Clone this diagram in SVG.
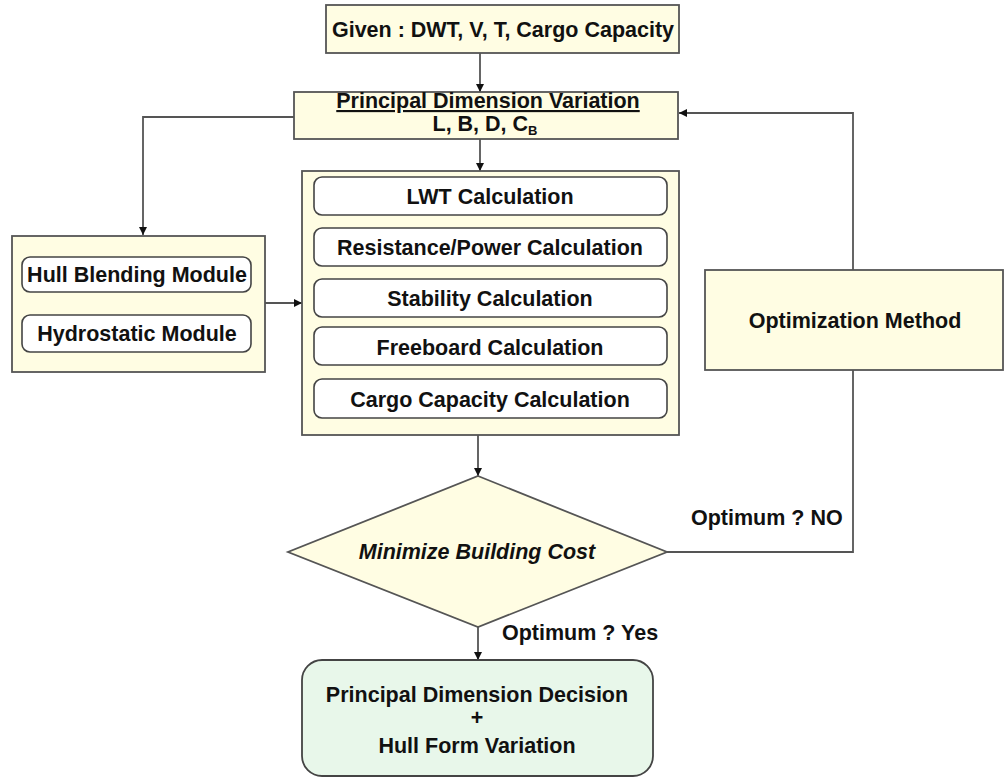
<svg xmlns="http://www.w3.org/2000/svg" width="1005" height="778" viewBox="0 0 1005 778">
  <style>
    text { font-family: "Liberation Sans", Arial, sans-serif; font-weight: bold; font-size: 21.5px; fill: #111; }
    .mid { text-anchor: middle; }
    .panel { fill: #FFFDE3; stroke: #555; stroke-width: 1.8; }
    .step { fill: #FFFFFF; stroke: #444; stroke-width: 1.6; }
    .result { fill: #E8F7EA; stroke: #444; stroke-width: 1.8; }
    .link { fill: none; stroke: #555; stroke-width: 1.8; }
  </style>
  <defs>
    <marker id="arrow" viewBox="0 0 10 10" refX="10" refY="5" markerWidth="9" markerHeight="8" markerUnits="userSpaceOnUse" orient="auto">
      <path d="M0,0 L10,5 L0,10 Z" fill="#111"/>
    </marker>
  </defs>

  <rect width="1005" height="778" fill="#FFFFFF"/>

  <!-- connectors, drawn beneath the boxes -->
  <g id="connectors">
    <line class="link" x1="480" y1="53" x2="480" y2="92" marker-end="url(#arrow)"/>
    <polyline class="link" points="294,117 143,117 143,235" marker-end="url(#arrow)"/>
    <line class="link" x1="265" y1="303" x2="302" y2="303" marker-end="url(#arrow)"/>
    <line class="link" x1="480" y1="139" x2="480" y2="171" marker-end="url(#arrow)"/>
    <line class="link" x1="478" y1="435" x2="478" y2="476" marker-end="url(#arrow)"/>
    <line class="link" x1="478" y1="627" x2="478" y2="660" marker-end="url(#arrow)"/>
    <polyline class="link" points="667,552 853,552 853,113 679,113" marker-end="url(#arrow)"/>
    <text x="691" y="525">Optimum ? NO</text>
    <text x="502" y="640">Optimum ? Yes</text>
  </g>

  <g id="given">
    <rect class="panel" x="326" y="5" width="353" height="48"/>
    <text class="mid" x="503" y="37" font-size="20.5">Given : DWT, V, T, Cargo Capacity</text>
  </g>

  <g id="principal-variation">
    <rect class="panel" x="294" y="92" width="384" height="47"/>
    <text class="mid" x="488" y="108" font-size="21" text-decoration="underline">Principal Dimension Variation</text>
    <text class="mid" x="485" y="131" font-size="20">L, B, D, C<tspan font-size="13" dy="4">B</tspan></text>
  </g>

  <g id="hull-modules">
    <rect class="panel" x="12" y="236" width="253" height="136"/>
    <rect class="step" x="22" y="257" width="229" height="35" rx="8"/>
    <text class="mid" x="137" y="282">Hull Blending Module</text>
    <rect class="step" x="22" y="315" width="229" height="37" rx="8"/>
    <text class="mid" x="137" y="341">Hydrostatic Module</text>
  </g>

  <g id="calculations">
    <rect class="panel" x="302" y="171" width="377" height="264"/>
    <rect class="step" x="314" y="177" width="353" height="38" rx="8"/>
    <text class="mid" x="490" y="204">LWT Calculation</text>
    <rect class="step" x="314" y="228" width="353" height="38" rx="8"/>
    <text class="mid" x="490" y="255">Resistance/Power Calculation</text>
    <rect class="step" x="314" y="279" width="353" height="38" rx="8"/>
    <text class="mid" x="490" y="306">Stability Calculation</text>
    <rect class="step" x="314" y="327" width="353" height="38" rx="8"/>
    <text class="mid" x="490" y="355">Freeboard Calculation</text>
    <rect class="step" x="314" y="379" width="353" height="39" rx="8"/>
    <text class="mid" x="490" y="407">Cargo Capacity Calculation</text>
  </g>

  <g id="optimization">
    <rect class="panel" x="705" y="270" width="298" height="100"/>
    <text class="mid" x="855" y="328">Optimization Method</text>
  </g>

  <g id="cost-decision">
    <polygon class="panel" points="478,476 667,552 478,627 288,552"/>
    <text class="mid" x="477" y="559" font-style="italic">Minimize Building Cost</text>
  </g>

  <g id="final-decision">
    <rect class="result" x="302" y="660" width="351" height="116" rx="20"/>
    <text class="mid" x="477" y="702">Principal Dimension Decision</text>
    <text class="mid" x="477" y="725">+</text>
    <text class="mid" x="477" y="753">Hull Form Variation</text>
  </g>
</svg>
